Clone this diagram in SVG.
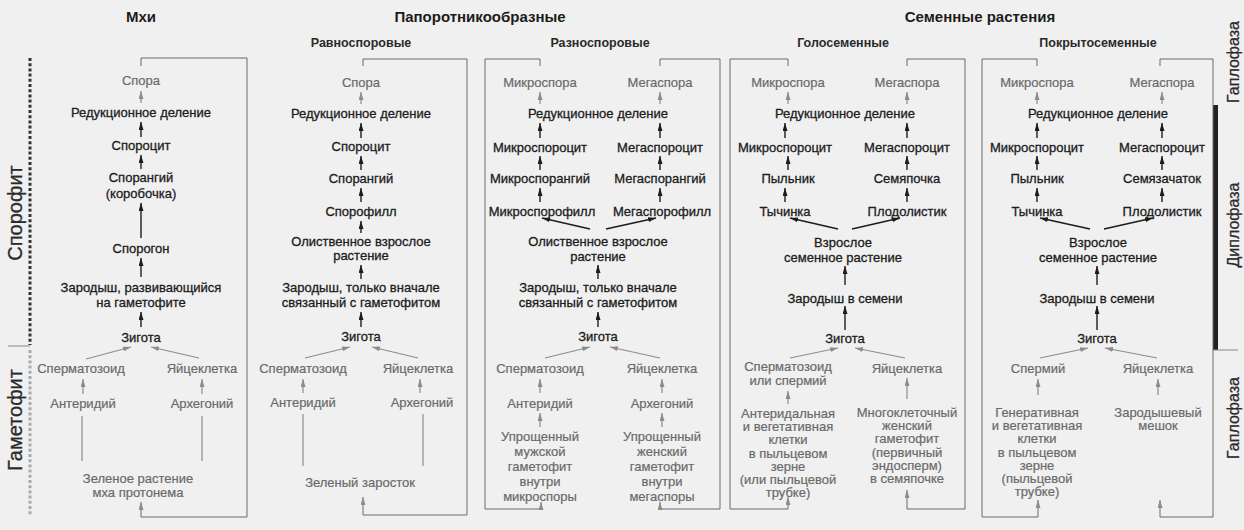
<svg xmlns="http://www.w3.org/2000/svg" width="1244" height="530" viewBox="0 0 1244 530">
<style>
text{font-family:"Liberation Sans",Arial,sans-serif;text-anchor:middle}
.k{font-size:13px;fill:#1c1c1c;stroke:#1c1c1c;stroke-width:0.3}
.g{font-size:13px;fill:#6a6a6a;stroke:#6a6a6a;stroke-width:0.2}
.h{font-size:15px;font-weight:bold;fill:#1c1c1c}
.sh{font-size:12.5px;font-weight:bold;fill:#2a2a2a}
.side{font-size:20px;fill:#2a2a2a;stroke:#2a2a2a;stroke-width:0.3}
.sider{font-size:16px;fill:#2a2a2a;stroke:#2a2a2a;stroke-width:0.25}
.a{stroke:#1c1c1c;stroke-width:1.4;fill:none;marker-end:url(#ah)}
.ag{stroke:#8c8c8c;stroke-width:1.2;fill:none;marker-end:url(#ahg)}
.ln{stroke:#8c8c8c;stroke-width:1.2;fill:none}
.loop{stroke:#6a6a6a;stroke-width:1;fill:none;marker-end:url(#ahg)}
</style>
<defs>
<marker id="ah" viewBox="0 0 8 5" refX="8" refY="2.5" markerWidth="8" markerHeight="5" markerUnits="userSpaceOnUse" orient="auto"><path d="M0,0 L8,2.5 L0,5 z" fill="#1c1c1c"/></marker>
<marker id="ahg" viewBox="0 0 8 5" refX="8" refY="2.5" markerWidth="8" markerHeight="5" markerUnits="userSpaceOnUse" orient="auto"><path d="M0,0 L8,2.5 L0,5 z" fill="#8c8c8c"/></marker>
</defs>
<rect width="1244" height="530" fill="#f0f0f0"/>

<g id="headers">
<text class="h" x="141" y="22">Мхи</text>
<text class="h" x="480" y="22">Папоротникообразные</text>
<text class="h" x="980" y="22">Семенные растения</text>
<text class="sh" x="361" y="47">Равноспоровые</text>
<text class="sh" x="600" y="47">Разноспоровые</text>
<text class="sh" x="843" y="47">Голосеменные</text>
<text class="sh" x="1098" y="47">Покрытосеменные</text>
</g>

<g id="phase-left">
<line x1="30" y1="58" x2="30" y2="345" stroke="#333" stroke-width="3" stroke-dasharray="3 2.2"/>
<line x1="30" y1="350" x2="30" y2="515" stroke="#aaa" stroke-width="3" stroke-dasharray="3 2.2"/>
<line x1="8" y1="346" x2="30" y2="346" stroke="#888" stroke-width="1"/>
<text class="side" transform="translate(22,213) rotate(-90)">Спорофит</text>
<text class="side" transform="translate(22,420) rotate(-90)">Гаметофит</text>
</g>

<g id="phase-right">
<rect x="1213" y="105" width="5" height="245" fill="#222"/>
<line x1="1213" y1="350" x2="1238" y2="350" stroke="#888" stroke-width="1"/>
<text class="sider" transform="translate(1239,62) rotate(-90)">Гаплофаза</text>
<text class="sider" transform="translate(1239,225) rotate(-90)">Диплофаза</text>
<text class="sider" transform="translate(1239,418) rotate(-90)">Гаплофаза</text>
</g>

<g id="connectors">
<path class="loop" d="M141,66 V58 H247 V517 H141 V502"/>
<path class="loop" d="M363,66 V59 H467 V515 H363 V497"/>
<path class="loop" d="M540,66 V59 H485 V509 H541 V502"/>
<path class="loop" d="M660,66 V59 H720 V509 H660 V502"/>
<path class="loop" d="M788,66 V59 H730 V509 H788 V497"/>
<path class="loop" d="M907,66 V59 H965 V509 H907 V490"/>
<path class="loop" d="M1037,66 V59 H982 V517 H1038 V500"/>
<path class="loop" d="M1160,66 V59 H1213 V517 H1160 V500"/>

<path class="ag" d="M141,103 V91"/>
<path class="a" d="M141,137 V122"/>
<path class="a" d="M141,169 V155"/>
<path class="a" d="M141,238 V203"/>
<path class="a" d="M141,277 V258"/>
<path class="a" d="M141,327 V312"/>
<path class="ag" d="M86,359 L131,347"/>
<path class="ag" d="M199,358 L151,347"/>
<path class="ag" d="M83,394 V379"/>
<path class="ag" d="M202,394 V379"/>
<path class="ln" d="M82,461 V416"/>
<path class="ln" d="M202,461 V416"/>

<path class="ag" d="M361,104 V92"/>
<path class="a" d="M361,138 V123"/>
<path class="a" d="M361,170 V156"/>
<path class="a" d="M361,202 V188"/>
<path class="a" d="M361,233 V221"/>
<path class="a" d="M361,279 V265"/>
<path class="a" d="M361,327 V312"/>
<path class="ag" d="M305,358 L350,347"/>
<path class="ag" d="M418,358 L372,347"/>
<path class="ag" d="M303,393 V379"/>
<path class="ag" d="M420,393 V379"/>
<path class="ln" d="M303,466 V414"/>
<path class="ln" d="M423,466 V414"/>

<path class="ag" d="M540,104 V92"/>
<path class="ag" d="M660,104 V92"/>
<path class="a" d="M540,138 V123"/>
<path class="a" d="M660,138 V123"/>
<path class="a" d="M540,170 V156"/>
<path class="a" d="M660,170 V156"/>
<path class="a" d="M540,202 V188"/>
<path class="a" d="M660,202 V188"/>
<path class="a" d="M590,229 L542,218"/>
<path class="a" d="M606,229 L656,218"/>
<path class="a" d="M598,279 V265"/>
<path class="a" d="M598,327 V312"/>
<path class="ag" d="M545,358 L590,347"/>
<path class="ag" d="M660,358 L610,347"/>
<path class="ag" d="M540,393 V379"/>
<path class="ag" d="M662,393 V379"/>
<path class="ag" d="M540,427 V413"/>
<path class="ag" d="M662,427 V413"/>

<path class="ag" d="M788,104 V92"/>
<path class="ag" d="M907,104 V92"/>
<path class="a" d="M785,138 V123"/>
<path class="a" d="M907,138 V123"/>
<path class="a" d="M788,170 V156"/>
<path class="a" d="M907,170 V156"/>
<path class="a" d="M785,202 V188"/>
<path class="a" d="M907,202 V188"/>
<path class="a" d="M838,229 L790,218"/>
<path class="a" d="M852,229 L900,218"/>
<path class="a" d="M845,285 V266"/>
<path class="a" d="M845,330 V306"/>
<path class="ag" d="M790,358 L838,348"/>
<path class="ag" d="M905,358 L855,348"/>
<path class="ag" d="M788,404 V391"/>
<path class="ag" d="M907,399 V378"/>

<path class="ag" d="M1037,104 V92"/>
<path class="ag" d="M1162,104 V92"/>
<path class="a" d="M1037,138 V123"/>
<path class="a" d="M1162,138 V123"/>
<path class="a" d="M1037,170 V156"/>
<path class="a" d="M1162,170 V156"/>
<path class="a" d="M1037,202 V188"/>
<path class="a" d="M1162,202 V188"/>
<path class="a" d="M1090,229 L1040,218"/>
<path class="a" d="M1104,229 L1153,218"/>
<path class="a" d="M1097,285 V266"/>
<path class="a" d="M1097,330 V306"/>
<path class="ag" d="M1040,358 L1088,348"/>
<path class="ag" d="M1157,358 L1105,348"/>
<path class="ag" d="M1038,395 V379"/>
<path class="ag" d="M1158,395 V379"/>
</g>

<!-- Column 1: Мхи -->
<g id="c1-spora"><text class="g" x="141" y="85">Спора</text></g>
<g id="c1-reduction"><text class="k" x="141" y="117">Редукционное деление</text></g>
<g id="c1-sporocyte"><text class="k" x="141" y="150">Спороцит</text></g>
<g id="c1-sporangium"><text class="k" x="141" y="182">Спорангий<tspan x="141" dy="16">(коробочка)</tspan></text></g>
<g id="c1-sporogon"><text class="k" x="141" y="253">Спорогон</text></g>
<g id="c1-embryo"><text class="k" x="141" y="292">Зародыш, развивающийся<tspan x="141" dy="15">на гаметофите</tspan></text></g>
<g id="c1-zygote"><text class="k" x="141" y="342">Зигота</text></g>
<g id="c1-sperm"><text class="g" x="81" y="373">Сперматозоид</text></g>
<g id="c1-egg"><text class="g" x="202" y="373">Яйцеклетка</text></g>
<g id="c1-antheridium"><text class="g" x="83" y="408">Антеридий</text></g>
<g id="c1-archegonium"><text class="g" x="202" y="408">Архегоний</text></g>
<g id="c1-protonema"><text class="g" x="138" y="483">Зеленое растение<tspan x="138" dy="14">мха протонема</tspan></text></g>

<!-- Column 2: Равноспоровые -->
<g id="c2-spora"><text class="g" x="361" y="87">Спора</text></g>
<g id="c2-reduction"><text class="k" x="361" y="118">Редукционное деление</text></g>
<g id="c2-sporocyte"><text class="k" x="361" y="151">Спороцит</text></g>
<g id="c2-sporangium"><text class="k" x="361" y="183">Спорангий</text></g>
<g id="c2-sporophyll"><text class="k" x="361" y="216">Спорофилл</text></g>
<g id="c2-adult"><text class="k" x="361" y="246">Олиственное взрослое<tspan x="361" dy="14">растение</tspan></text></g>
<g id="c2-embryo"><text class="k" x="361" y="292">Зародыш, только вначале<tspan x="361" dy="15">связанный с гаметофитом</tspan></text></g>
<g id="c2-zygote"><text class="k" x="361" y="341">Зигота</text></g>
<g id="c2-sperm"><text class="g" x="303" y="373">Сперматозоид</text></g>
<g id="c2-egg"><text class="g" x="418" y="373">Яйцеклетка</text></g>
<g id="c2-antheridium"><text class="g" x="303" y="407">Антеридий</text></g>
<g id="c2-archegonium"><text class="g" x="422" y="407">Архегоний</text></g>
<g id="c2-prothallus"><text class="g" x="360" y="487">Зеленый заросток</text></g>

<!-- Column 3: Разноспоровые -->
<g id="c3-microspore"><text class="g" x="540" y="87">Микроспора</text></g>
<g id="c3-megaspore"><text class="g" x="660" y="87">Мегаспора</text></g>
<g id="c3-reduction"><text class="k" x="598" y="118">Редукционное деление</text></g>
<g id="c3-microsporocyte"><text class="k" x="540" y="152">Микроспороцит</text></g>
<g id="c3-megasporocyte"><text class="k" x="660" y="152">Мегаспороцит</text></g>
<g id="c3-microsporangium"><text class="k" x="540" y="183">Микроспорангий</text></g>
<g id="c3-megasporangium"><text class="k" x="660" y="183">Мегаспорангий</text></g>
<g id="c3-microsporophyll"><text class="k" x="542" y="216">Микроспорофилл</text></g>
<g id="c3-megasporophyll"><text class="k" x="662" y="216">Мегаспорофилл</text></g>
<g id="c3-adult"><text class="k" x="598" y="246">Олиственное взрослое<tspan x="598" dy="15">растение</tspan></text></g>
<g id="c3-embryo"><text class="k" x="598" y="292">Зародыш, только вначале<tspan x="598" dy="15">связанный с гаметофитом</tspan></text></g>
<g id="c3-zygote"><text class="k" x="598" y="341">Зигота</text></g>
<g id="c3-sperm"><text class="g" x="540" y="373">Сперматозоид</text></g>
<g id="c3-egg"><text class="g" x="662" y="373">Яйцеклетка</text></g>
<g id="c3-antheridium"><text class="g" x="540" y="408">Антеридий</text></g>
<g id="c3-archegonium"><text class="g" x="662" y="408">Архегоний</text></g>
<g id="c3-male-gametophyte"><text class="g" x="540" y="441">Упрощенный<tspan x="540" dy="15">мужской</tspan><tspan x="540" dy="15">гаметофит</tspan><tspan x="540" dy="15">внутри</tspan><tspan x="540" dy="15">микроспоры</tspan></text></g>
<g id="c3-female-gametophyte"><text class="g" x="662" y="441">Упрощенный<tspan x="662" dy="15">женский</tspan><tspan x="662" dy="15">гаметофит</tspan><tspan x="662" dy="15">внутри</tspan><tspan x="662" dy="15">мегаспоры</tspan></text></g>

<!-- Column 4: Голосеменные -->
<g id="c4-microspore"><text class="g" x="788" y="87">Микроспора</text></g>
<g id="c4-megaspore"><text class="g" x="907" y="87">Мегаспора</text></g>
<g id="c4-reduction"><text class="k" x="845" y="118">Редукционное деление</text></g>
<g id="c4-microsporocyte"><text class="k" x="785" y="152">Микроспороцит</text></g>
<g id="c4-megasporocyte"><text class="k" x="907" y="152">Мегаспороцит</text></g>
<g id="c4-anther"><text class="k" x="788" y="183">Пыльник</text></g>
<g id="c4-ovule"><text class="k" x="907" y="183">Семяпочка</text></g>
<g id="c4-stamen"><text class="k" x="785" y="216">Тычинка</text></g>
<g id="c4-carpel"><text class="k" x="907" y="216">Плодолистик</text></g>
<g id="c4-adult"><text class="k" x="843" y="247">Взрослое<tspan x="843" dy="15">семенное растение</tspan></text></g>
<g id="c4-embryo"><text class="k" x="845" y="303">Зародыш в семени</text></g>
<g id="c4-zygote"><text class="k" x="845" y="343">Зигота</text></g>
<g id="c4-sperm"><text class="g" x="788" y="371">Сперматозоид<tspan x="788" dy="14">или спермий</tspan></text></g>
<g id="c4-egg"><text class="g" x="907" y="373">Яйцеклетка</text></g>
<g id="c4-pollen"><text class="g" x="788" y="418">Антеридальная<tspan x="788" dy="13.2">и вегетативная</tspan><tspan x="788" dy="13.2">клетки</tspan><tspan x="788" dy="13.2">в пыльцевом</tspan><tspan x="788" dy="13.2">зерне</tspan><tspan x="788" dy="13.2">(или пыльцевой</tspan><tspan x="788" dy="13.2">трубке)</tspan></text></g>
<g id="c4-female-gametophyte"><text class="g" x="907" y="417">Многоклеточный<tspan x="907" dy="13.2">женский</tspan><tspan x="907" dy="13.2">гаметофит</tspan><tspan x="907" dy="13.2">(первичный</tspan><tspan x="907" dy="13.2">эндосперм)</tspan><tspan x="907" dy="13.2">в семяпочке</tspan></text></g>

<!-- Column 5: Покрытосеменные -->
<g id="c5-microspore"><text class="g" x="1037" y="87">Микроспора</text></g>
<g id="c5-megaspore"><text class="g" x="1162" y="87">Мегаспора</text></g>
<g id="c5-reduction"><text class="k" x="1098" y="118">Редукционное деление</text></g>
<g id="c5-microsporocyte"><text class="k" x="1037" y="152">Микроспороцит</text></g>
<g id="c5-megasporocyte"><text class="k" x="1162" y="152">Мегаспороцит</text></g>
<g id="c5-anther"><text class="k" x="1037" y="183">Пыльник</text></g>
<g id="c5-ovule"><text class="k" x="1162" y="183">Семязачаток</text></g>
<g id="c5-stamen"><text class="k" x="1037" y="216">Тычинка</text></g>
<g id="c5-carpel"><text class="k" x="1162" y="216">Плодолистик</text></g>
<g id="c5-adult"><text class="k" x="1098" y="247">Взрослое<tspan x="1098" dy="15">семенное растение</tspan></text></g>
<g id="c5-embryo"><text class="k" x="1097" y="303">Зародыш в семени</text></g>
<g id="c5-zygote"><text class="k" x="1097" y="343">Зигота</text></g>
<g id="c5-sperm"><text class="g" x="1038" y="373">Спермий</text></g>
<g id="c5-egg"><text class="g" x="1158" y="373">Яйцеклетка</text></g>
<g id="c5-pollen"><text class="g" x="1037" y="417">Генеративная<tspan x="1037" dy="13.2">и вегетативная</tspan><tspan x="1037" dy="13.2">клетки</tspan><tspan x="1037" dy="13.2">в пыльцевом</tspan><tspan x="1037" dy="13.2">зерне</tspan><tspan x="1037" dy="13.2">(пыльцевой</tspan><tspan x="1037" dy="13.2">трубке)</tspan></text></g>
<g id="c5-embryo-sac"><text class="g" x="1158" y="417">Зародышевый<tspan x="1158" dy="13.2">мешок</tspan></text></g>
</svg>
